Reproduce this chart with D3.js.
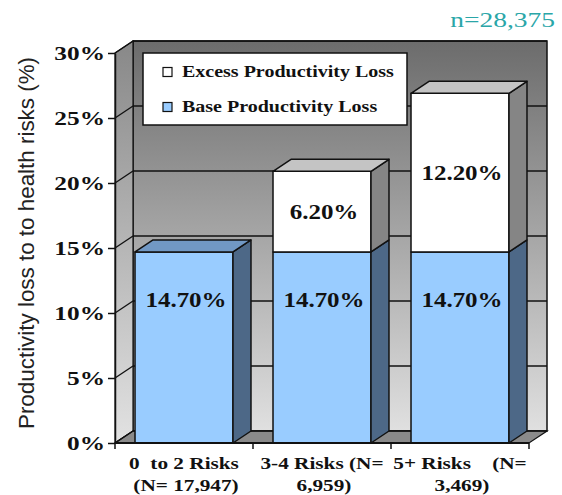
<!DOCTYPE html>
<html>
<head>
<meta charset="utf-8">
<script src="https://cdn.jsdelivr.net/npm/d3@7"></script>
<style>
  html, body { margin: 0; padding: 0; background: #fff; }
  svg { display: block; }
  .serif { font-family: "Liberation Serif", "Times New Roman", serif; font-weight: bold; fill: #111; }
</style>
</head>
<body>
<svg id="chart" width="562" height="495"></svg>
<script>
// Category labels (two wrapped lines each)
const categoryLines = [
  ["0  to 2 Risks", "(N= 17,947)"],
  ["3-4 Risks (N=", "6,959)"],
  ["5+ Risks    (N=", "3,469)"]
];
// Stacked series values (% productivity loss)
const baseLoss = [14.7, 14.7, 14.7];
const excessLoss = [0, 6.2, 12.2];
const seriesNames = ["Excess Productivity Loss", "Base Productivity Loss"];
const yTicks = [0, 5, 10, 15, 20, 25, 30];
const sampleNote = "n=28,375";
const yTitle = "Productivity loss to to health risks (%)";

const svg = d3.select("#chart");

// Front plane of the 3D chart and depth offset of the back wall
const plot = { left: 115, right: 529, top: 53, bottom: 443 };
const depth = { dx: 18, dy: -12 };
const stretch = 1.25;   // horizontally widened serif lettering

const x = d3.scaleBand()
  .domain(d3.range(categoryLines.length))
  .range([plot.left, plot.right])
  .paddingInner(0.29)
  .paddingOuter(0.145);
const y = d3.scaleLinear().domain([0, 30]).range([plot.bottom, plot.top]);

const defs = svg.append("defs");
const backGrad = defs.append("linearGradient").attr("id", "backGrad")
  .attr("x1", 0).attr("y1", 0).attr("x2", 0).attr("y2", 1);
backGrad.append("stop").attr("offset", "0%").attr("stop-color", "#6c6c6c");
backGrad.append("stop").attr("offset", "100%").attr("stop-color", "#e0e0e0");
const sideGrad = defs.append("linearGradient").attr("id", "sideGrad")
  .attr("x1", 0).attr("y1", 0).attr("x2", 0).attr("y2", 1);
sideGrad.append("stop").attr("offset", "0%").attr("stop-color", "#888888");
sideGrad.append("stop").attr("offset", "100%").attr("stop-color", "#e2e2e2");

const poly = pts => pts.map(p => p.join(",")).join(" ");
const yMax = y.domain()[1];

// Back wall
svg.append("polygon")
  .attr("points", poly([
    [plot.left + depth.dx, y(yMax) + depth.dy],
    [plot.right + depth.dx, y(yMax) + depth.dy],
    [plot.right + depth.dx, y(0) + depth.dy],
    [plot.left + depth.dx, y(0) + depth.dy]
  ]))
  .attr("fill", "url(#backGrad)").attr("stroke", "#111").attr("stroke-width", 1.5);

// Left side wall
svg.append("polygon")
  .attr("points", poly([
    [plot.left, y(0)], [plot.left, y(yMax)],
    [plot.left + depth.dx, y(yMax) + depth.dy], [plot.left + depth.dx, y(0) + depth.dy]
  ]))
  .attr("fill", "url(#sideGrad)").attr("stroke", "#111").attr("stroke-width", 1.2);

// Floor
svg.append("polygon")
  .attr("points", poly([
    [plot.left, y(0)], [plot.right, y(0)],
    [plot.right + depth.dx, y(0) + depth.dy], [plot.left + depth.dx, y(0) + depth.dy]
  ]))
  .attr("fill", "#8a8a8a").attr("stroke", "#111").attr("stroke-width", 1.2);

// Gridlines: back wall and side wall
const grid = svg.append("g").attr("stroke", "#111").attr("stroke-width", 1.3);
grid.selectAll("line.back").data(yTicks).join("line").attr("class", "back")
  .attr("x1", plot.left + depth.dx).attr("x2", plot.right + depth.dx)
  .attr("y1", d => y(d) + depth.dy).attr("y2", d => y(d) + depth.dy);
grid.selectAll("line.side").data(yTicks).join("line").attr("class", "side")
  .attr("x1", plot.left).attr("x2", plot.left + depth.dx)
  .attr("y1", d => y(d)).attr("y2", d => y(d) + depth.dy);

// Stacked 3D bars
const palette = {
  base:   { front: "#99ccff", side: "#4d6887", top: "#7198c4" },
  excess: { front: "#ffffff", side: "#858585", top: "#c4c4c4" }
};
const bars = svg.append("g").attr("stroke", "#111").attr("stroke-width", 1.5).attr("stroke-linejoin", "round");

categoryLines.forEach((_, i) => {
  const x0 = x(i), x1 = x(i) + x.bandwidth();
  const segs = [{ key: "base", v0: 0, v1: baseLoss[i] }];
  if (excessLoss[i] > 0) segs.push({ key: "excess", v0: baseLoss[i], v1: baseLoss[i] + excessLoss[i] });
  const g = bars.append("g");
  segs.forEach((s, k) => {
    const c = palette[s.key];
    g.append("rect")
      .attr("x", x0).attr("y", y(s.v1))
      .attr("width", x1 - x0).attr("height", y(s.v0) - y(s.v1))
      .attr("fill", c.front);
    g.append("polygon")
      .attr("points", poly([
        [x1, y(s.v0)], [x1 + depth.dx, y(s.v0) + depth.dy],
        [x1 + depth.dx, y(s.v1) + depth.dy], [x1, y(s.v1)]
      ]))
      .attr("fill", c.side);
    if (k === segs.length - 1) {
      g.append("polygon")
        .attr("points", poly([
          [x0, y(s.v1)], [x0 + depth.dx, y(s.v1) + depth.dy],
          [x1 + depth.dx, y(s.v1) + depth.dy], [x1, y(s.v1)]
        ]))
        .attr("fill", c.top);
    }
  });
});

// Value labels
const fmt = v => d3.format(".2f")(v) + "%";
const valueLabels = [];
categoryLines.forEach((_, i) => {
  const cx = x(i) + x.bandwidth() / 2;
  valueLabels.push({ cx, cy: y(baseLoss[i] * 0.75), text: fmt(baseLoss[i]) });
  if (excessLoss[i] > 0) {
    valueLabels.push({ cx, cy: y(baseLoss[i] + excessLoss[i] / 2), text: fmt(excessLoss[i]) });
  }
});
svg.append("g").selectAll("text").data(valueLabels).join("text")
  .attr("class", "serif")
  .attr("transform", d => `translate(${d.cx + 2},${d.cy}) scale(${stretch},1)`)
  .attr("text-anchor", "middle").attr("dy", "0.35em")
  .attr("font-size", 20)
  .text(d => d.text);

// Y axis (front edge)
const yAxis = svg.append("g")
  .attr("transform", `translate(${plot.left},0)`)
  .call(d3.axisLeft(y).tickValues(yTicks).tickSize(7).tickFormat(d => d + "%").tickSizeOuter(0));
yAxis.select(".domain").attr("stroke", "#111").attr("stroke-width", 1.5);
yAxis.selectAll(".tick line").attr("stroke", "#111").attr("stroke-width", 1.5);
yAxis.selectAll(".tick text")
  .attr("class", "serif")
  .attr("x", null).attr("dy", null)
  .attr("transform", `translate(-10,0) scale(1.3,1)`)
  .attr("dominant-baseline", "central")
  .attr("font-size", 19.5)
  .attr("font-family", null);

// X axis baseline and category boundary ticks
svg.append("line")
  .attr("x1", plot.left).attr("x2", plot.right)
  .attr("y1", y(0)).attr("y2", y(0))
  .attr("stroke", "#111").attr("stroke-width", 1.8);
const bounds = d3.range(categoryLines.length + 1).map(i => plot.left + i * x.step());
svg.append("g").selectAll("line").data(bounds).join("line")
  .attr("x1", d => d).attr("x2", d => d)
  .attr("y1", y(0)).attr("y2", y(0) + 6)
  .attr("stroke", "#111").attr("stroke-width", 1.5);

// Category labels
const catG = svg.append("g");
categoryLines.forEach((lines, i) => {
  const cx = x(i) + x.bandwidth() / 2;
  lines.forEach((ln, j) => {
    catG.append("text")
      .attr("class", "serif")
      .attr("transform", `translate(${cx + j * 2},${469 + j * 22}) scale(${stretch},1)`)
      .attr("text-anchor", "middle")
      .attr("font-size", 17)
      .style("white-space", "pre")
      .text(ln);
  });
});

// Legend
const legend = svg.append("g").attr("transform", "translate(143,53)");
legend.append("rect").attr("width", 264).attr("height", 72)
  .attr("fill", "#fff").attr("stroke", "#111").attr("stroke-width", 1.5);
const legendColors = [palette.excess.front, palette.base.front];
seriesNames.forEach((name, i) => {
  const row = legend.append("g").attr("transform", `translate(20,${19 + i * 35})`);
  row.append("rect").attr("x", 0).attr("y", -4.5).attr("width", 9).attr("height", 9)
    .attr("fill", legendColors[i]).attr("stroke", "#111").attr("stroke-width", 1.2);
  row.append("text").attr("class", "serif")
    .attr("transform", `translate(19,0) scale(${stretch},1)`)
    .attr("dominant-baseline", "central")
    .attr("font-size", 16)
    .text(name);
});

// Sample size note
svg.append("text")
  .attr("transform", `translate(555,27) scale(${stretch},1)`)
  .attr("text-anchor", "end")
  .attr("font-family", "'Liberation Serif', 'Times New Roman', serif")
  .attr("font-size", 22)
  .attr("fill", "#2aa6a8")
  .text(sampleNote);

// Y axis title
svg.append("text")
  .attr("transform", `translate(34,243) rotate(-90)`)
  .attr("text-anchor", "middle")
  .attr("font-family", "'Liberation Sans', Arial, sans-serif")
  .attr("font-size", 22.4)
  .attr("fill", "#222")
  .text(yTitle);
</script>
</body>
</html>
